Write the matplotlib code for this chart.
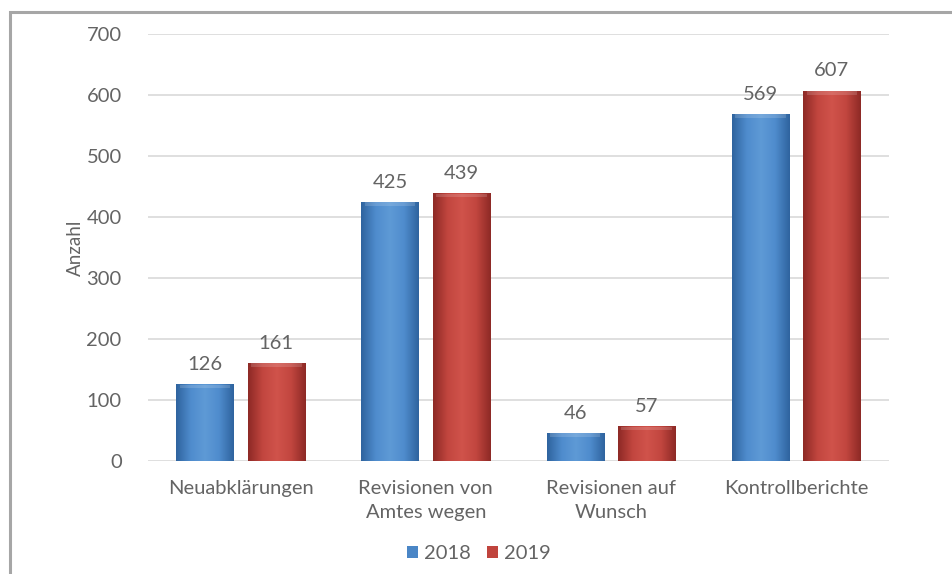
import numpy as np
import matplotlib.pyplot as plt
from matplotlib.colors import LinearSegmentedColormap
from matplotlib.patches import Rectangle, Patch

categories = ['Neuabklärungen', 'Revisionen von\nAmtes wegen', 'Revisionen auf\nWunsch', 'Kontrollberichte']
years = ['2018', '2019']
values_2018 = [126, 425, 46, 569]
values_2019 = [161, 439, 57, 607]

plt.rcParams['font.family'] = ['Lato', 'DejaVu Sans']
text_grey = '#646464'

fig = plt.figure(figsize=(9.52, 5.74), dpi=100)
ax = fig.add_axes([0.1555, 0.197, 0.778, 0.744])

# outer frame (left and top edges only visible)
fig.patches.append(Rectangle((0.0105, -0.05), 1.2, 1.029, transform=fig.transFigure,
                             fill=False, edgecolor='#a6a6a6', linewidth=2.2))

x = np.arange(len(categories))
width = 0.31
offset = 0.193

bars_a = ax.bar(x - offset, values_2018, width, color='#4a86c6', zorder=2)
bars_b = ax.bar(x + offset, values_2019, width, color='#c0443d', zorder=2)

blue_cmap = LinearSegmentedColormap.from_list('b', ['#2f649f', '#4f8ccd', '#5e9ad6', '#4f8ccd', '#2f649f'])
red_cmap = LinearSegmentedColormap.from_list('r', ['#8e2a26', '#c2463f', '#d0534b', '#c2463f', '#8e2a26'])
grad = np.linspace(0, 1, 64).reshape(1, -1)


def shade(bars, cmap):
    for b in bars:
        x0, y0 = b.get_x(), b.get_y()
        w, h = b.get_width(), b.get_height()
        im = ax.imshow(grad, cmap=cmap, extent=[x0, x0 + w, y0, y0 + h],
                       aspect='auto', zorder=3, interpolation='bicubic')
        im.set_clip_path(b)
        # lighter bevel at the top of each bar
        ax.add_patch(Rectangle((x0 + w * 0.06, y0 + h - 7), w * 0.88, 6,
                               facecolor='white', alpha=0.15, linewidth=0, zorder=4))


shade(bars_a, blue_cmap)
shade(bars_b, red_cmap)

for bars, vals in [(bars_a, values_2018), (bars_b, values_2019)]:
    for b, v in zip(bars, vals):
        ax.annotate(str(v), (b.get_x() + b.get_width() / 2, v), xytext=(0, 8),
                    textcoords='offset points', ha='center', va='bottom',
                    fontsize=14.5, color=text_grey)

ax.set_xlim(-0.5, len(categories) - 0.5)
ax.set_ylim(0, 700)
ax.set_yticks(range(0, 701, 100))
ax.grid(axis='y', color='#d9d9d9', linewidth=1.2, zorder=0)
ax.set_axisbelow(True)
for s in ax.spines.values():
    s.set_visible(False)
ax.tick_params(length=0, labelsize=14.5, labelcolor=text_grey)
ax.tick_params(axis='y', pad=19)
ax.tick_params(axis='x', pad=14)
ax.set_xticks(x)
ax.set_xticklabels(categories, linespacing=1.45)
ax.set_ylabel('Anzahl', fontsize=13.5, color=text_grey, labelpad=2)

handles = [Patch(facecolor='#4a86c6'), Patch(facecolor='#c0443d')]
fig.legend(handles, years, loc='center', bbox_to_anchor=(0.503, 0.036), ncol=2,
           frameon=False, fontsize=14.5, labelcolor=text_grey, handlelength=0.55,
           handleheight=0.55, handletextpad=0.3, columnspacing=0.8)

fig.savefig('out.png', dpi=100)
